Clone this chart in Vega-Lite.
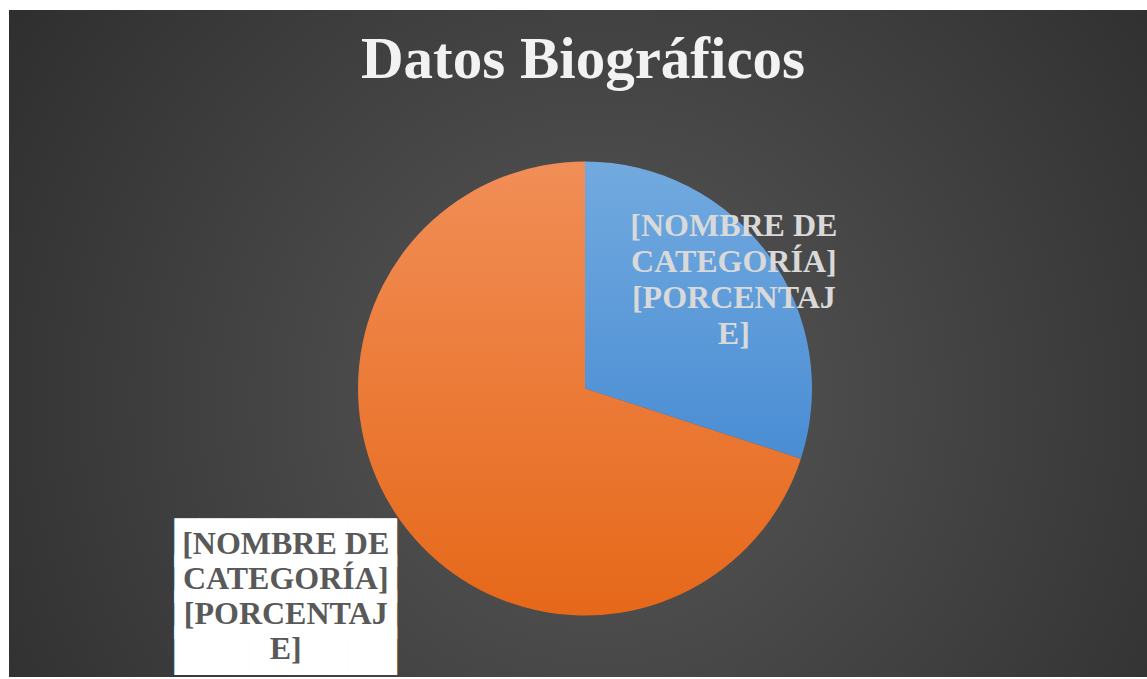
{
  "$schema": "https://vega.github.io/schema/vega-lite/v6.json",
  "width": 1147,
  "height": 679,
  "autosize": {"type": "fit", "contains": "padding"},
  "padding": {"left": 9, "top": 10, "right": 0, "bottom": 2},
  "background": "white",
  "view": {
    "stroke": null,
    "fill": {
      "gradient": "radial",
      "x1": 0.52, "y1": 0.55, "r1": 0,
      "x2": 0.52, "y2": 0.55, "r2": 0.72,
      "stops": [
        {"offset": 0, "color": "#585858"},
        {"offset": 1, "color": "#282828"}
      ]
    }
  },
  "title": {
    "text": "Datos Biográficos",
    "font": "Liberation Serif",
    "fontSize": 59,
    "fontWeight": "bold",
    "color": "#f2f2f2",
    "anchor": "middle",
    "frame": "group",
    "baseline": "alphabetic",
    "offset": -127,
    "dx": 5
  },
  "data": {
    "values": [
      {"categoria": "Categoría 1", "valor": 30, "etiqueta": ["[NOMBRE DE", "CATEGORÍA]", "[PORCENTAJ", "E]"], "caja": ["█████████", "█████████", "█████████", "█████████"]},
      {"categoria": "Categoría 2", "valor": 70, "etiqueta": ["[NOMBRE DE", "CATEGORÍA]", "[PORCENTAJ", "E]"], "caja": ["█████████", "█████████", "█████████", "█████████"]}
    ]
  },
  "encoding": {
    "theta": {"field": "valor", "type": "quantitative", "stack": true}
  },
  "layer": [
    {
      "mark": {"type": "arc", "outerRadius": 227, "xOffset": 7, "yOffset": 45, "stroke": null},
      "encoding": {
        "fill": {
          "condition": {
            "test": "datum.categoria === 'Categoría 1'",
            "value": {
              "gradient": "linear", "x1": 0, "y1": 0, "x2": 0, "y2": 1,
              "stops": [
                {"offset": 0, "color": "#72aadf"},
                {"offset": 1, "color": "#4a8dd4"}
              ]
            }
          },
          "value": {
            "gradient": "linear", "x1": 0, "y1": 0, "x2": 0, "y2": 1,
            "stops": [
              {"offset": 0, "color": "#f18e57"},
              {"offset": 1, "color": "#e66819"}
            ]
          }
        }
      }
    },
    {
      "mark": {"type": "text", "radius": 365, "xOffset": 7, "yOffset": 45, "dx": -4, "dy": -58, "font": "DejaVu Sans Mono", "fontSize": 41, "lineHeight": 36, "align": "center", "baseline": "middle", "fill": "white"},
      "encoding": {
        "text": {"field": "caja"},
        "opacity": {"condition": {"test": "datum.categoria === 'Categoría 2'", "value": 1}, "value": 0}
      }
    },
    {
      "mark": {"type": "text", "radius": 365, "xOffset": 7, "yOffset": 45, "dx": -4, "dy": -59, "font": "Liberation Serif", "fontSize": 32, "fontWeight": "bold", "lineHeight": 35, "align": "center", "baseline": "middle", "fill": "#595959"},
      "encoding": {
        "text": {"field": "etiqueta"},
        "opacity": {"condition": {"test": "datum.categoria === 'Categoría 2'", "value": 1}, "value": 0}
      }
    },
    {
      "mark": {"type": "text", "radius": 184, "xOffset": 7, "yOffset": 45, "dy": -54, "font": "Liberation Serif", "fontSize": 32, "fontWeight": "bold", "lineHeight": 36, "align": "center", "baseline": "middle", "fill": "#d9d9d9"},
      "encoding": {
        "text": {"field": "etiqueta"},
        "opacity": {"condition": {"test": "datum.categoria === 'Categoría 1'", "value": 1}, "value": 0}
      }
    }
  ]
}
